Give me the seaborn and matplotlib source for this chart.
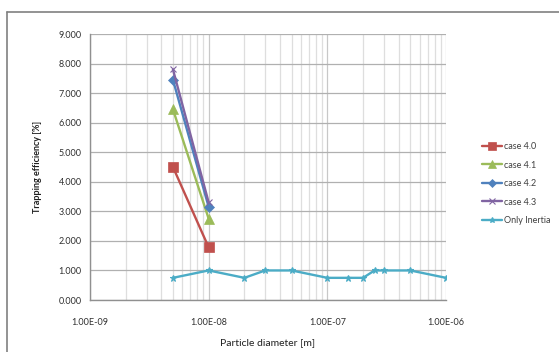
import numpy as np
import pandas as pd
import seaborn as sns
import matplotlib.pyplot as plt
from matplotlib.lines import Line2D
from matplotlib.ticker import LogLocator, FixedLocator, NullFormatter

# Data
d_cases = [5e-9, 1e-8]
case_40 = [4.50, 1.78]
case_41 = [6.45, 2.75]
case_42 = [7.45, 3.15]
case_43 = [7.80, 3.30]

d_inertia = [5e-9, 1e-8, 2e-8, 3e-8, 5e-8, 1e-7, 1.5e-7, 2e-7, 2.5e-7, 3e-7, 5e-7, 1e-6]
only_inertia = [0.75, 1.00, 0.75, 1.00, 1.00, 0.75, 0.75, 0.75, 1.00, 1.00, 1.00, 0.75]

series_names = ['case 4.0', 'case 4.1', 'case 4.2', 'case 4.3', 'Only Inertia']
colors = ['#C0504D', '#9BBB59', '#4F81BD', '#8064A2', '#4BACC6']
markers = ['s', '^', 'D', 'x', '*']
x_ticks = [1e-9, 1e-8, 1e-7, 1e-6]
x_tick_labels = ['1.00E-09', '1.00E-08', '1.00E-07', '1.00E-06']

sns.set_style('white')
plt.rcParams['font.family'] = ['Lato', 'DejaVu Sans']

fig = plt.figure(figsize=(5.59, 3.52), dpi=100)
ax = fig.add_axes([90 / 559, 1 - 300 / 352, 356 / 559, 266 / 352])

series = [
    (d_cases, case_40),
    (d_cases, case_41),
    (d_cases, case_42),
    (d_cases, case_43),
    (d_inertia, only_inertia),
]
msizes = [7, 7, 5, 5, 5]
for (xs, ys), name, c, m, ms in zip(series, series_names, colors, markers, msizes):
    df = pd.DataFrame({'d': xs, 'eff': ys})
    sns.lineplot(data=df, x='d', y='eff', ax=ax, color=c, marker=m, markersize=ms,
                 linewidth=1.7, markeredgecolor=c, markeredgewidth=0.8 if m in 'x*' else 0.5,
                 label=name, legend=False)

ax.set_xscale('log')
ax.set_xlim(1e-9, 1e-6)
ax.set_ylim(0, 9)
ax.set_xticks(x_ticks)
ax.set_xticklabels(x_tick_labels)
ax.xaxis.set_minor_locator(LogLocator(base=10, subs=np.arange(2, 10)))
ax.xaxis.set_minor_formatter(NullFormatter())
ax.yaxis.set_major_locator(FixedLocator(np.arange(0, 10, 1)))
ax.set_yticklabels([f'{v:.3f}' for v in np.arange(0, 10, 1)])

ax.grid(which='major', axis='y', color='#b0b0b0', linewidth=0.9)
ax.grid(which='major', axis='x', color='#c8c8c8', linewidth=0.9)
ax.grid(which='minor', axis='x', color='#dedede', linewidth=0.9)
ax.set_axisbelow(True)

for s in ['top', 'right']:
    ax.spines[s].set_visible(False)
for s in ['left', 'bottom']:
    ax.spines[s].set_color('#909090')
    ax.spines[s].set_linewidth(1)

ax.tick_params(axis='both', which='major', labelsize=6.5, colors='#404040', length=4,
               width=0.8, direction='out', pad=3)
ax.tick_params(axis='x', which='minor', length=0)
ax.tick_params(axis='x', which='major', pad=9)
ax.tick_params(axis='y', which='major', length=3)
ax.tick_params(axis='both', labelcolor='#303030')

ax.set_xlabel('Particle diameter [m]', fontsize=7.5, color='#202020', labelpad=8)
ax.set_ylabel('Trapping efficiency [%]', fontsize=6.5, color='#202020',
              fontweight='bold', labelpad=12)

handles, labels = ax.get_legend_handles_labels()
leg = fig.legend(handles, labels, loc='upper left', bbox_to_anchor=(474 / 559, 1 - 134 / 352),
                 frameon=False, fontsize=6.5, handlelength=2.2, handletextpad=0.2,
                 labelspacing=1.05, markerscale=0.8)
for t in leg.get_texts():
    t.set_color('#404040')

# outer chart border (top and left edges visible)
fig.add_artist(Line2D([7 / 559, 1.0], [1 - 12 / 352, 1 - 12 / 352], color='#808080',
                      linewidth=1.2, transform=fig.transFigure))
fig.add_artist(Line2D([7 / 559, 7 / 559], [0, 1 - 12 / 352], color='#808080',
                      linewidth=1.2, transform=fig.transFigure))

fig.savefig('out.png', dpi=100)
